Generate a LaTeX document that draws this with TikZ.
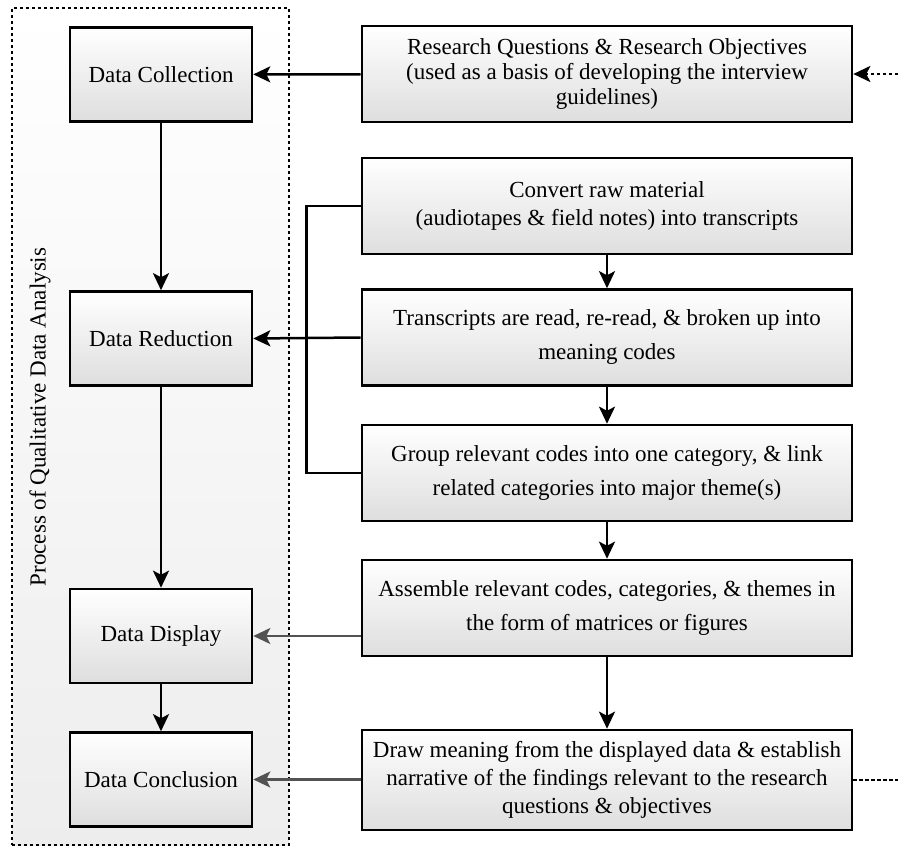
\documentclass[tikz,border=0pt]{standalone}
\usepackage{fontspec}
\setmainfont{Liberation Serif}
\usetikzlibrary{arrows.meta}

\begin{document}
\begin{tikzpicture}[
    x=1pt, y=-1pt,
    font=\fontsize{23}{28}\selectfont,
    box/.style={draw, line width=2.6pt, top color=white, bottom color=black!13, align=center, inner sep=0pt},
    stage/.style={box, minimum width=182pt, minimum height=94pt},
    task/.style={box, minimum width=490pt, minimum height=96pt},
    flow/.style={-{Stealth[length=17pt,width=16pt,inset=4pt]}, line width=2.5pt},
    soft/.style={flow, draw=black!68, line width=2.1pt},
    dots/.style={line width=2.6pt, dash pattern=on 3.2pt off 2.8pt}]

  \useasboundingbox (0,0) rectangle (898,848);

  % ---- left frame: process stages ----------------------------------------
  \node[dots, draw, top color=white, bottom color=black!7, minimum width=277pt, minimum height=837pt] (frame) at (150.5,426.5) {};
  \node[rotate=90] (title) at (40,417) {Process of Qualitative Data Analysis};

  \node[stage] (collect)  at (161,74.5)  {Data Collection};
  \node[stage] (reduce)   at (161,338.5) {Data Reduction};
  \node[stage] (display)  at (161,636)   {Data Display};
  \node[stage] (conclude) at (161,779.5) {Data Conclusion};
  \draw[flow] (collect) -- (reduce);
  \draw[flow] (reduce) -- (display);
  \draw[flow] (display) -- (conclude);

  % ---- right column: analysis tasks --------------------------------------
  \node[task] (rq)       at (607,74)  {Research Questions \& Research Objectives\\[-3pt] (used as a basis of developing the interview\\[-3pt] guidelines)};
  \node[task] (convert)  at (607,206) {Convert raw material\\ (audiotapes \& field notes) into transcripts};
  \node[task] (read)     at (607,337.5) {Transcripts are read, re-read, \& broken up into\\[6pt] meaning codes};
  \node[task] (group)    at (607,473) {Group relevant codes into one category, \& link\\[6pt] related categories into major theme(s)};
  \node[task] (assemble) at (607,608) {Assemble relevant codes, categories, \& themes in\\[6pt] the form of matrices or figures};
  \node[task, minimum height=100pt] (meaning) at (607,780) {Draw meaning from the displayed data \& establish\\ narrative of the findings relevant to the research\\ questions \& objectives};
  \draw[flow] (convert) -- (read);
  \draw[flow] (read) -- (group);
  \draw[flow] (group) -- (assemble);
  \draw[flow] (assemble) -- (meaning);

  % ---- links between columns ---------------------------------------------
  \draw[flow] (rq) -- (collect);
  \draw[line width=2.5pt] (convert.west) -- ++(-54,0) |- (group.west);
  \draw[flow] (read.west) -- (reduce.east);
  \draw[soft] (display.east -| assemble.west) -- (display.east);
  \draw[soft] (meaning.west |- conclude.east) -- (conclude.east);

  % ---- dotted feedback ends ----------------------------------------------
  \coordinate (feedin)  at (898,74);
  \coordinate (feedout) at (898,780);
  \draw[dots, -{Stealth[length=17pt,width=16pt,inset=4pt]}] (feedin) -- (rq.east);
  \draw[dots] (meaning.east) -- (feedout);
\end{tikzpicture}
\end{document}
